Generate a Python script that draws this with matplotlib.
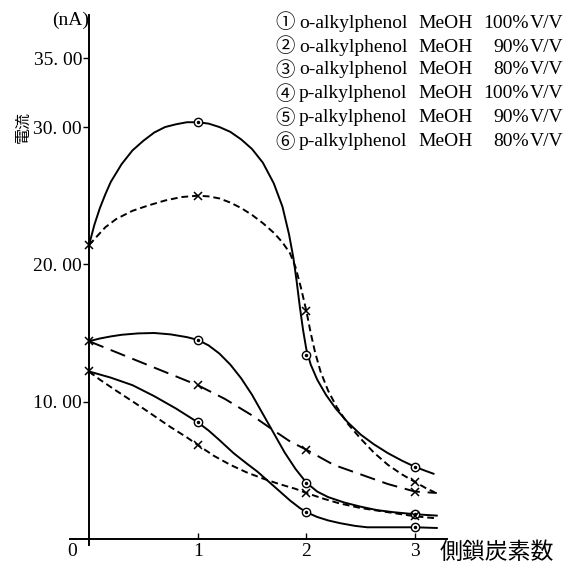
import numpy as np
import matplotlib
matplotlib.use('Agg')
import matplotlib.pyplot as plt

SERIF = ['Liberation Serif', 'Noto Sans CJK JP', 'DejaVu Sans']
CJK = ['Noto Sans CJK JP', 'DejaVu Sans']

# curves (x = side chain carbons, y = current nA)
c1_x = [0, 0.05, 0.1, 0.15, 0.2, 0.3, 0.4, 0.5, 0.6, 0.7, 0.8, 0.9, 1.0, 1.1, 1.2, 1.3, 1.4, 1.5, 1.6, 1.7,
        1.78, 1.84, 1.88, 1.91, 1.94, 1.97, 2.0, 2.04, 2.1, 2.18, 2.27, 2.38, 2.5, 2.62, 2.75, 2.88, 3.0, 3.1, 3.17]
c1_y = [21.4, 22.9, 24.1, 25.1, 26.0, 27.3, 28.3, 29.0, 29.6, 30.0, 30.2, 30.35, 30.35, 30.25, 30.0, 29.65, 29.1, 28.4, 27.4, 25.9,
        24.2, 22.2, 20.5, 18.8, 16.9, 15.2, 13.8, 12.7, 11.6, 10.5, 9.5, 8.5, 7.6, 6.9, 6.25, 5.7, 5.25, 4.95, 4.75]

c2_x = [0, 0.08, 0.15, 0.25, 0.4, 0.55, 0.7, 0.85, 1.0, 1.1, 1.2, 1.3, 1.4, 1.5, 1.6, 1.7, 1.78, 1.85, 1.9, 1.95,
        2.0, 2.04, 2.08, 2.13, 2.2, 2.28, 2.38, 2.5, 2.62, 2.75, 2.88, 3.0, 3.1, 3.18]
c2_y = [21.4, 22.1, 22.7, 23.3, 23.9, 24.3, 24.65, 24.9, 25.0, 24.95, 24.8, 24.5, 24.1, 23.6, 23.0, 22.3, 21.6, 20.8, 19.8, 18.3,
        16.6, 15.0, 13.6, 12.2, 10.8, 9.6, 8.4, 7.3, 6.3, 5.4, 4.7, 4.15, 3.7, 3.4]

c3_x = [0, 0.1, 0.2, 0.3, 0.45, 0.6, 0.75, 0.9, 1.0, 1.1, 1.2, 1.3, 1.4, 1.5, 1.6, 1.7, 1.8, 1.9, 2.0, 2.1,
        2.2, 2.35, 2.5, 2.65, 2.8, 3.0, 3.2]
c3_y = [14.4, 14.6, 14.75, 14.87, 14.97, 15.0, 14.9, 14.7, 14.5, 14.1, 13.5, 12.7, 11.7, 10.5, 9.1, 7.7, 6.3, 5.1, 4.1, 3.45,
        3.05, 2.65, 2.35, 2.1, 1.95, 1.8, 1.7]

c4_x = [0, 0.25, 0.5, 0.75, 1.0, 1.25, 1.5, 1.7, 1.85, 2.0, 2.25, 2.5, 2.75, 3.0, 3.2]
c4_y = [14.4, 13.6, 12.8, 12.0, 11.2, 10.2, 9.0, 7.9, 7.1, 6.5, 5.4, 4.7, 4.0, 3.45, 3.35]

c5_x = [0, 0.2, 0.4, 0.6, 0.8, 1.0, 1.1, 1.2, 1.33, 1.45, 1.55, 1.65, 1.75, 1.85, 1.94, 2.0, 2.1, 2.2, 2.31, 2.45,
        2.56, 3.0, 3.2]
c5_y = [12.2, 11.75, 11.2, 10.4, 9.5, 8.5, 7.9, 7.2, 6.25, 5.5, 4.9, 4.2, 3.5, 2.8, 2.25, 1.95, 1.6, 1.35, 1.15, 0.95,
        0.85, 0.85, 0.8]

c6_x = [0, 0.1, 0.25, 0.5, 0.75, 0.9, 1.0, 1.15, 1.3, 1.45, 1.6, 1.75, 1.9, 2.0, 2.15, 2.3, 2.5, 2.75, 3.0, 3.2]
c6_y = [12.2, 11.6, 10.8, 9.5, 8.15, 7.4, 6.85, 6.05, 5.4, 4.85, 4.4, 4.0, 3.65, 3.35, 2.95, 2.6, 2.25, 1.95, 1.65, 1.5]

# measured points
circ_x = [1, 2, 3]
p1_y = [30.35, 13.4, 5.25]
p3_y = [14.5, 4.1, 1.85]
p5_y = [8.5, 1.95, 0.85]
cross_x = [0, 1, 2, 3]
p2_y = [21.4, 25.0, 16.6, 4.15]
p4_y = [14.4, 11.2, 6.5, 3.45]
p6_y = [12.2, 6.85, 3.35, 1.65]

yticks = [10, 20, 30, 35]
ytick_labels = ['10. 00', '20. 00', '30. 00', '35. 00']
xticks = [1, 2, 3]

leg_nums = ['①', '②', '③', '④', '⑤', '⑥']
leg_names = ['o-alkylphenol'] * 3 + ['p-alkylphenol'] * 3
leg_pcts = ['100%', '90%', '80%', '100%', '90%', '80%']

W, H = 567, 564
fig = plt.figure(figsize=(W / 100, H / 100), dpi=100)
ax = fig.add_axes([70 / W, (H - 545) / H, (447 - 70) / W, (545 - 15) / H])
ax.set_xlim(-0.175, 3.294)
ax.set_ylim(-0.44, 38.16)

for s in ['top', 'right']:
    ax.spines[s].set_visible(False)
ax.spines['left'].set_position(('data', 0))
ax.spines['bottom'].set_position(('data', 0))
ax.spines['left'].set_linewidth(1.4)
ax.spines['bottom'].set_linewidth(1.4)

lw = 1.4
ax.plot(c1_x, c1_y, color='black', lw=lw)
ax.plot(c2_x, c2_y, color='black', lw=lw, dashes=(3.5, 2))
ax.plot(c3_x, c3_y, color='black', lw=lw)
ax.plot(c4_x, c4_y, color='black', lw=lw, dashes=(8, 4))
ax.plot(c5_x, c5_y, color='black', lw=lw)
ax.plot(c6_x, c6_y, color='black', lw=lw, dashes=(3.5, 2))

for py in [p1_y, p3_y, p5_y]:
    ax.plot(circ_x, py, ls='none', marker='o', ms=6, mfc='white', mec='black', mew=1.0, zorder=3)
    ax.plot(circ_x, py, ls='none', marker='o', ms=1.5, color='black', zorder=4)
for py in [p2_y, p4_y, p6_y]:
    ax.plot(cross_x, py, ls='none', marker='x', ms=6, color='black', mew=1.1, zorder=3)

ax.set_yticks(yticks)
ax.set_yticklabels(ytick_labels, family=SERIF, fontsize=14)
ax.tick_params(axis='y', direction='out', length=4, width=1, pad=1)
ax.set_xticks(xticks)
ax.set_xticklabels([str(v) for v in xticks], family=SERIF, fontsize=14)
ax.tick_params(axis='x', direction='in', length=4, width=1, pad=3)

def px(x, y):
    return x / W, 1 - y / H

fig.text(*px(72, 552), '0', family=SERIF, fontsize=14, ha='center', va='center')
fig.text(*px(89, 20), '(nA)', family=SERIF, fontsize=14, ha='right', va='center')
fig.text(*px(23, 127), '電流', family=CJK, fontsize=11.5, rotation=90, ha='center', va='center')
fig.text(*px(440, 552), '側鎖炭素数', family=CJK, fontsize=16.5, ha='left', va='center')

leg_y = [23, 47, 70, 94, 118, 142]
for i in range(6):
    y = leg_y[i]
    fig.text(*px(285, y), leg_nums[i], family=CJK, fontsize=14, ha='center', va='center')
    fig.text(*px(299, y), leg_names[i], family=SERIF, fontsize=14, ha='left', va='center')
    fig.text(*px(418, y), 'MeOH', family=SERIF, fontsize=14, ha='left', va='center')
    fig.text(*px(529, y), leg_pcts[i], family=SERIF, fontsize=14, ha='right', va='center')
    fig.text(*px(530, y), 'V/V', family=SERIF, fontsize=14, ha='left', va='center')

fig.savefig('out.png', dpi=100)
